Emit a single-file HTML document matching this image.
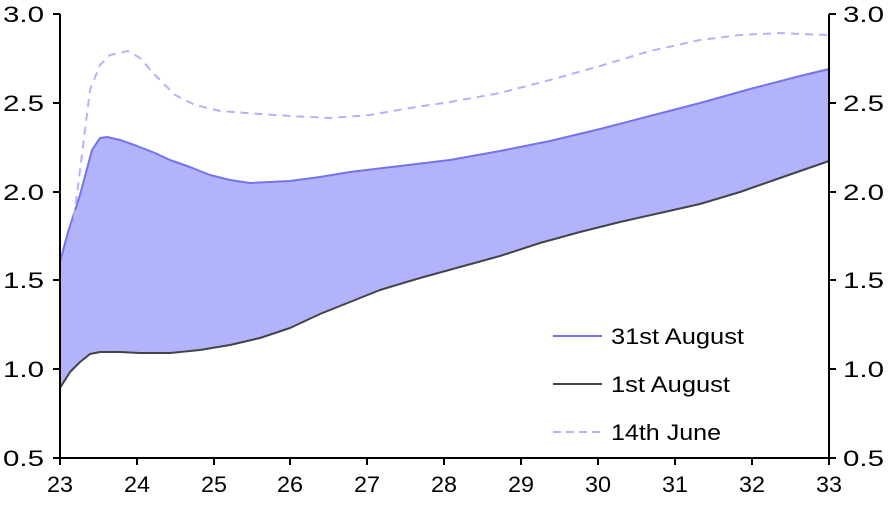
<!DOCTYPE html>
<html><head><meta charset="utf-8"><style>
html,body{margin:0;padding:0;background:#fff;}
svg{display:block;font-family:"Liberation Sans",Arial,sans-serif;}
</style></head><body>
<svg width="888" height="508" viewBox="0 0 888 508">
<path d="M60,262 L68,232 L80,195 L92,150 L100,138 L107,137 L120,140 L137,146 L155,153 L170,160 L190,167 L210,175 L230,180 L250,183 L270,182 L290,181 L320,177 L350,172 L400,166 L450,160 L500,151 L550,141 L600,129 L650,116 L700,103 L750,89 L800,76 L829,69 L829,161 L780,178 L740,192 L700,204 L660,213 L620,222 L580,232 L540,243 L500,256 L460,267 L420,278 L380,290 L350,302 L320,314 L290,328 L260,338 L230,345 L200,350 L170,353 L140,353 L120,352 L100,352 L90,354 L80,362 L70,372 L60,388 Z" fill="#b3b3fb"/>
<path d="M60,262 L68,232 L80,195 L92,150 L100,138 L107,137 L120,140 L137,146 L155,153 L170,160 L190,167 L210,175 L230,180 L250,183 L270,182 L290,181 L320,177 L350,172 L400,166 L450,160 L500,151 L550,141 L600,129 L650,116 L700,103 L750,89 L800,76 L829,69" fill="none" stroke="#7373f0" stroke-width="2" stroke-linejoin="round"/>
<path d="M60,388 L70,372 L80,362 L90,354 L100,352 L120,352 L140,353 L170,353 L200,350 L230,345 L260,338 L290,328 L320,314 L350,302 L380,290 L420,278 L460,267 L500,256 L540,243 L580,232 L620,222 L660,213 L700,204 L740,192 L780,178 L829,161" fill="none" stroke="#444" stroke-width="2" stroke-linejoin="round"/>
<path d="M60,315 L70,250 L80,170 L90,90 L100,65 L110,55 L128,51 L140,58 L155,75 L175,95 L195,105 L220,111 L260,114 L290,116 L330,118 L370,115 L410,108 L450,102 L500,93 L550,80 L600,66 L650,51 L700,40 L740,35 L780,33 L800,34 L829,35" fill="none" stroke="#b3b3fb" stroke-width="2" stroke-dasharray="8,6" stroke-linejoin="round"/>
<g stroke="#000" stroke-width="2" fill="none">
<path d="M60,14 V458 H829 M829,14 V458"/>
<path d="M53,14H60M53,103H60M53,192H60M53,280H60M53,369H60M53,458H60"/>
<path d="M829,14H836M829,103H836M829,192H836M829,280H836M829,369H836M829,458H836"/>
<path d="M60,458v7M137,458v7M214,458v7M290,458v7M367,458v7M444,458v7M521,458v7M598,458v7M675,458v7M752,458v7M829,458v7"/>
</g>
<g font-size="22" fill="#000" lengthAdjust="spacingAndGlyphs">
<text x="3" y="22" textLength="41" lengthAdjust="spacingAndGlyphs">3.0</text><text x="3" y="111" textLength="41" lengthAdjust="spacingAndGlyphs">2.5</text><text x="3" y="200" textLength="41" lengthAdjust="spacingAndGlyphs">2.0</text>
<text x="3" y="288" textLength="41" lengthAdjust="spacingAndGlyphs">1.5</text><text x="3" y="377" textLength="41" lengthAdjust="spacingAndGlyphs">1.0</text><text x="3" y="466" textLength="41" lengthAdjust="spacingAndGlyphs">0.5</text>
<text x="843" y="22" textLength="41" lengthAdjust="spacingAndGlyphs">3.0</text><text x="843" y="111" textLength="41" lengthAdjust="spacingAndGlyphs">2.5</text><text x="843" y="200" textLength="41" lengthAdjust="spacingAndGlyphs">2.0</text>
<text x="843" y="288" textLength="41" lengthAdjust="spacingAndGlyphs">1.5</text><text x="843" y="377" textLength="41" lengthAdjust="spacingAndGlyphs">1.0</text><text x="843" y="466" textLength="41" lengthAdjust="spacingAndGlyphs">0.5</text>
</g>
<g font-size="22" fill="#000">
<text x="47" y="492" textLength="26" lengthAdjust="spacingAndGlyphs">23</text><text x="124" y="492" textLength="26" lengthAdjust="spacingAndGlyphs">24</text><text x="201" y="492" textLength="26" lengthAdjust="spacingAndGlyphs">25</text><text x="277" y="492" textLength="26" lengthAdjust="spacingAndGlyphs">26</text><text x="354" y="492" textLength="26" lengthAdjust="spacingAndGlyphs">27</text><text x="431" y="492" textLength="26" lengthAdjust="spacingAndGlyphs">28</text><text x="508" y="492" textLength="26" lengthAdjust="spacingAndGlyphs">29</text><text x="585" y="492" textLength="26" lengthAdjust="spacingAndGlyphs">30</text><text x="662" y="492" textLength="26" lengthAdjust="spacingAndGlyphs">31</text><text x="739" y="492" textLength="26" lengthAdjust="spacingAndGlyphs">32</text><text x="816" y="492" textLength="26" lengthAdjust="spacingAndGlyphs">33</text>
</g>
<line x1="553" y1="336" x2="602" y2="336" stroke="#7373f0" stroke-width="2"/>
<line x1="553" y1="384" x2="602" y2="384" stroke="#444" stroke-width="2"/>
<line x1="553" y1="432" x2="602" y2="432" stroke="#b3b3fb" stroke-width="2" stroke-dasharray="8,5"/>
<g font-size="22" fill="#000">
<text x="611" y="344" textLength="133" lengthAdjust="spacingAndGlyphs">31st August</text>
<text x="611" y="392" textLength="119" lengthAdjust="spacingAndGlyphs">1st August</text>
<text x="611" y="440" textLength="110" lengthAdjust="spacingAndGlyphs">14th June</text>
</g>
</svg>
</body></html>
